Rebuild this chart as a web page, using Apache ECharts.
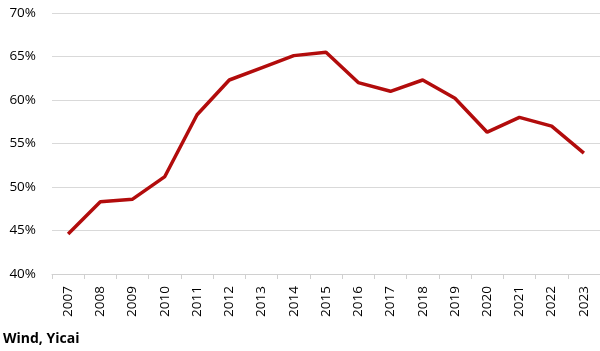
<!DOCTYPE html>
<html>
<head>
<meta charset="utf-8">
<script src="https://cdn.jsdelivr.net/npm/echarts@6/dist/echarts.min.js"></script>
<style>
  html, body { margin: 0; padding: 0; background: #fff; }
  #chart { width: 600px; height: 351px; }
</style>
</head>
<body>
<div id="chart"></div>
<script>
// years and share (%)
const years = ['2007', '2008', '2009', '2010', '2011', '2012', '2013', '2014', '2015',
  '2016', '2017', '2018', '2019', '2020', '2021', '2022', '2023'];
const share = [44.6, 48.3, 48.6, 51.2, 58.3, 62.3, 63.7, 65.1, 65.5,
  62.0, 61.0, 62.3, 60.2, 56.3, 58.0, 57.0, 53.9];
const sourceText = 'Wind, Yicai';

const chart = echarts.init(document.getElementById('chart'));

chart.setOption({
  backgroundColor: '#fff',
  animation: false,
  textStyle: { fontFamily: 'Open Sans' },
  grid: { left: 52, right: 0, top: 13, bottom: 77, containLabel: false },
  xAxis: {
    type: 'category',
    data: years,
    boundaryGap: true,
    axisLine: { lineStyle: { color: '#d0d0d0', width: 1 } },
    axisTick: { show: true, length: 5, lineStyle: { color: '#d0d0d0' } },
    axisLabel: { rotate: 90, color: '#000', fontSize: 13.5, margin: 12, interval: 0 }
  },
  yAxis: {
    type: 'value',
    min: 40,
    max: 70,
    interval: 5,
    axisLine: { show: false },
    axisTick: { show: false },
    splitLine: { lineStyle: { color: '#d9d9d9', width: 1 } },
    axisLabel: { color: '#000', fontSize: 13.5, margin: 16, formatter: '{value}%' }
  },
  graphic: [{
    type: 'text',
    left: 3,
    top: 332,
    style: { text: sourceText, font: 'bold 14px "Open Sans"', fill: '#000' }
  }],
  series: [{
    type: 'line',
    data: share,
    symbol: 'none',
    lineStyle: { color: '#b20c0c', width: 3.5 }
  }]
});
</script>
</body>
</html>
